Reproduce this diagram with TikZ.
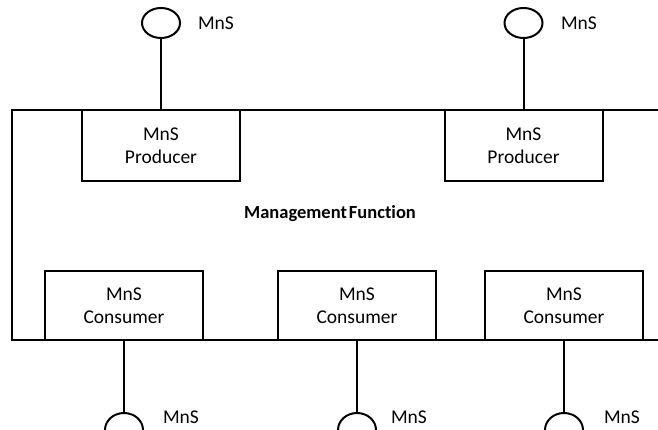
\documentclass[tikz,border=0pt]{standalone}
\usepackage{fontspec}
\setmainfont{Carlito}[Ligatures=NoCommon]
\usetikzlibrary{shapes.geometric}
\begin{document}
\begin{tikzpicture}[x=1pt,y=-1pt,
  line width=2pt,
  every node/.style={font=\fontsize{19.5}{23.5}\selectfont, inner sep=0pt},
  fnbox/.style={draw, rectangle, minimum width=158pt, align=center, line width=2pt},
  prodbox/.style={fnbox, minimum height=71pt},
  consbox/.style={fnbox, minimum height=69pt},
  iface/.style={draw, ellipse, minimum width=38pt, minimum height=30pt, line width=2pt},
  lbl/.style={anchor=west}]
\useasboundingbox (0,0) rectangle (658,430);
\clip (0,0) rectangle (658,430);
% frame of the management function
\draw (658,110) -- (12,110) -- (12,340) -- (658,340);
% producers
\node[prodbox] (p1) at (161,145.5) {MnS\\Producer};
\node[prodbox] (p2) at (523.5,145.5) {MnS\\Producer};
\node[iface] (i1) at (161,23) {};
\node[iface] (i2) at (523.5,23) {};
\draw (i1.south) -- (p1.north);
\draw (i2.south) -- (p2.north);
\node[lbl] (l1) at (197,23) {MnS};
\node[lbl] (l2) at (560,23) {MnS};
% title
\node[font=\fontsize{18.5}{22}\selectfont\bfseries] (mf) at (330,214) {Management\hspace{2pt}Function};
% consumers
\node[consbox] (c1) at (124,305.5) {MnS\\Consumer};
\node[consbox] (c2) at (357,305.5) {MnS\\Consumer};
\node[consbox] (c3) at (564,305.5) {MnS\\Consumer};
\coordinate (t1) at (124,413);
\coordinate (t2) at (357,413);
\coordinate (t3) at (564,413);
\draw (c1.south) -- (t1);
\draw (c2.south) -- (t2);
\draw (c3.south) -- (t3);
\foreach \t in {t1,t2,t3}{
  \draw ([xshift=-19pt,yshift=-17pt]\t) arc[start angle=180,end angle=0,x radius=19pt,y radius=17pt];
}
\node[lbl] (b1) at (162,417) {MnS};
\node[lbl] (b2) at (390,417) {MnS};
\node[lbl] (b3) at (603,417) {MnS};
\end{tikzpicture}
\end{document}
